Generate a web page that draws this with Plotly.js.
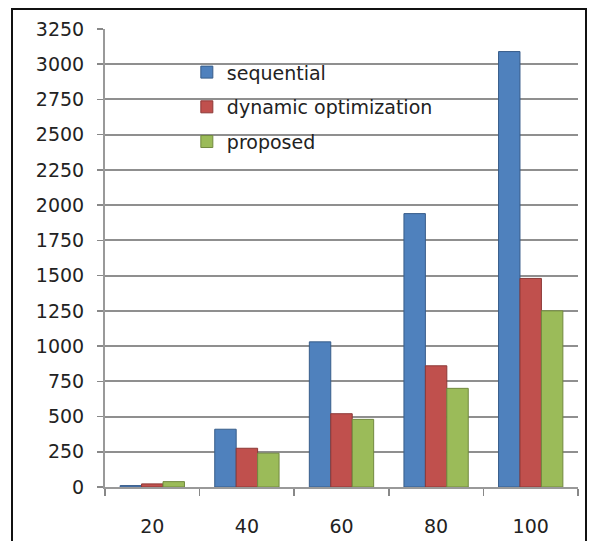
<!DOCTYPE html>
<html>
<head>
<meta charset="utf-8">
<script src="https://cdn.plot.ly/plotly-3.0.1.min.js"></script>
<style>
html,body{margin:0;padding:0;background:#fff;}
#wrap{position:relative;width:594px;height:541px;}
#chart{width:594px;height:541px;}
#frame{position:absolute;left:11px;top:8px;width:576px;height:540px;border:2px solid #111;box-sizing:border-box;pointer-events:none;}
</style>
</head>
<body>
<div id="wrap"><div id="chart"></div><div id="frame"></div></div>
<script>
const categories = ["20", "40", "60", "80", "100"];
const seriesNames = ["sequential", "dynamic optimization", "proposed"];
const sequential = [10, 410, 1030, 1940, 3090];
const dynamicOptimization = [22, 275, 520, 860, 1480];
const proposed = [38, 240, 480, 700, 1250];
const yTicks = [0, 250, 500, 750, 1000, 1250, 1500, 1750, 2000, 2250, 2500, 2750, 3000, 3250];

const colors = ["#4F81BD", "#C0504D", "#9BBB59"];
const lineColors = ["#385D8A", "#8C3836", "#71893F"];
const values = [sequential, dynamicOptimization, proposed];

const traces = values.map((v, i) => ({
  type: "bar",
  name: seriesNames[i],
  x: categories,
  y: v,
  legendgroup: "g" + i,
  marker: {color: colors[i], line: {color: lineColors[i], width: 1}}
}));

const layout = {
  width: 594, height: 541,
  margin: {l: 105, r: 16, t: 29, b: 54},
  paper_bgcolor: "#fff", plot_bgcolor: "#fff",
  barmode: "group", bargap: 0.32, bargroupgap: 0,
  font: {family: "DejaVu Sans, sans-serif", size: 19, color: "#222"},
  showlegend: true,
  legend: {
    x: 0.173, y: 0.947, xanchor: "left", yanchor: "top",
    bgcolor: "rgba(0,0,0,0)", tracegroupgap: 7,
    font: {size: 19, color: "#222"}
  },
  xaxis: {
    type: "category",
    tickson: "boundaries",
    ticks: "outside", ticklen: 7, tickcolor: "#888", tickwidth: 1.5,
    showline: true, linecolor: "#999", linewidth: 2,
    showgrid: false,
    ticklabelstandoff: 21,
    tickfont: {size: 19, color: "#222"}
  },
  yaxis: {
    range: [0, 3250],
    tickvals: yTicks,
    ticktext: yTicks.map(String),
    ticks: "outside", ticklen: 6, tickcolor: "#888", tickwidth: 1.5,
    showline: true, linecolor: "#999", linewidth: 2,
    showgrid: true, gridcolor: "#8f8f8f", gridwidth: 2,
    zeroline: false,
    ticklabelstandoff: 9,
    tickfont: {size: 19, color: "#222"}
  }
};

Plotly.newPlot("chart", traces, layout, {displayModeBar: false, staticPlot: true});
</script>
</body>
</html>
